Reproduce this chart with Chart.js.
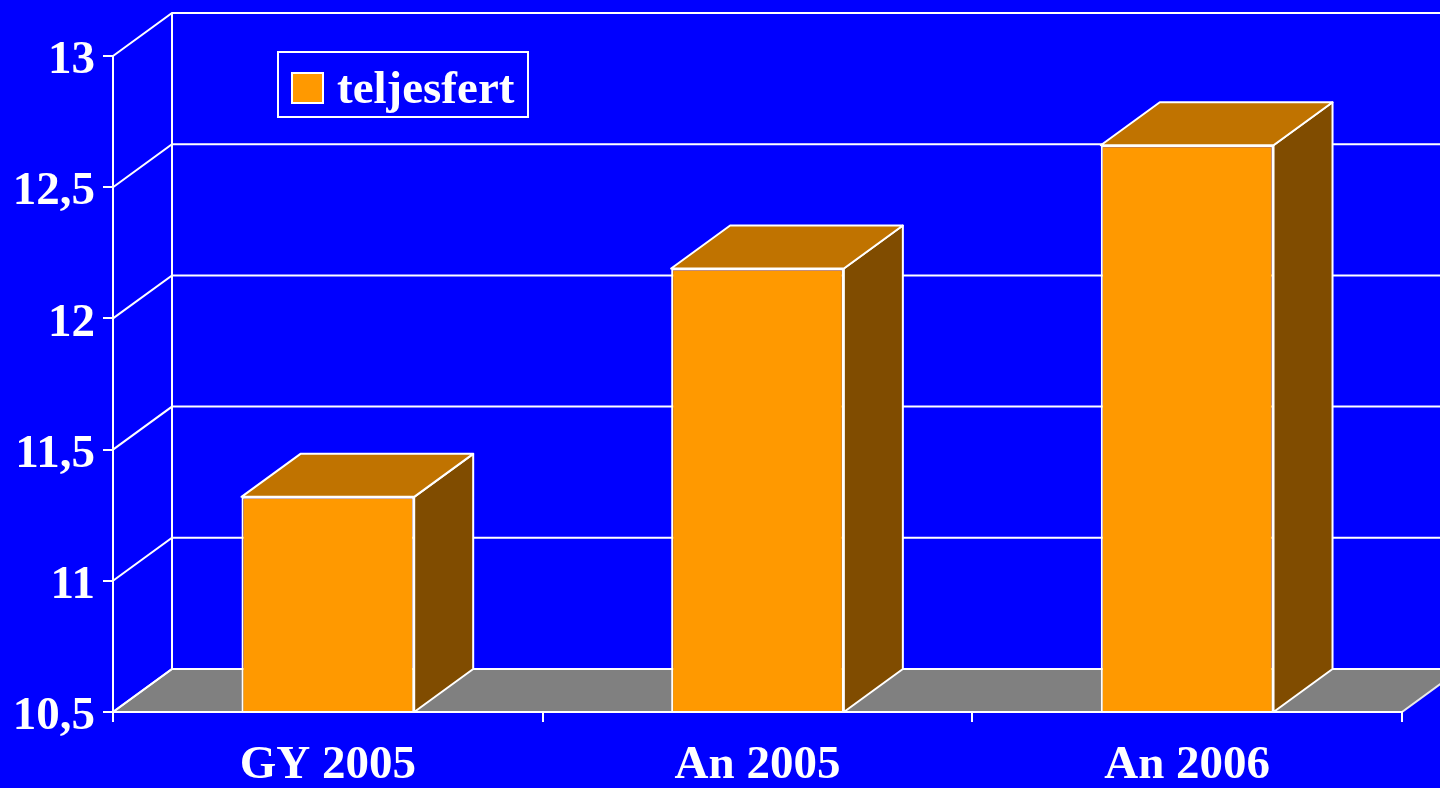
<!DOCTYPE html>
<html>
<head>
<meta charset="utf-8">
<script src="https://cdn.jsdelivr.net/npm/chart.js@4.4.1/dist/chart.umd.min.js"></script>
<style>
  html, body { margin: 0; padding: 0; background: #0000ff; }
  canvas { display: block; }
</style>
</head>
<body>
<canvas id="chart" width="1440" height="788"></canvas>
<script>
// data
const categories = ["GY 2005", "An 2005", "An 2006"];
const seriesName = "teljesfert";
const values = [11.32, 12.19, 12.66];
const yMin = 10.5, yMax = 13, yStep = 0.5;

// depth offset of the 3D box
const DX = 59, DY = 43;
const FONT = { family: "'Liberation Serif', 'Times New Roman', serif", size: 47, weight: 'bold' };

const depth3d = {
  id: 'depth3d',
  beforeDraw(chart) {
    const { ctx, chartArea: a, scales: { y } } = chart;
    ctx.save();
    ctx.fillStyle = '#0000ff';
    ctx.fillRect(0, 0, chart.width, chart.height);

    const yb = y.getPixelForValue(y.min);
    const yt = y.getPixelForValue(y.max);

    // floor
    ctx.beginPath();
    ctx.moveTo(a.left, yb);
    ctx.lineTo(a.right, yb);
    ctx.lineTo(a.right + DX, yb - DY);
    ctx.lineTo(a.left + DX, yb - DY);
    ctx.closePath();
    ctx.fillStyle = '#808080';
    ctx.fill();
    ctx.strokeStyle = '#e8e8e8';
    ctx.lineWidth = 2;
    ctx.stroke();

    // back wall grid lines + side wall diagonals
    ctx.strokeStyle = '#ffffff';
    y.ticks.forEach(t => {
      const py = y.getPixelForValue(t.value);
      ctx.beginPath();
      ctx.moveTo(a.left, py);
      ctx.lineTo(a.left + DX, py - DY);
      ctx.lineTo(chart.width + 5, py - DY);
      ctx.stroke();
    });
    ctx.beginPath();
    ctx.moveTo(a.left + DX, yt - DY);
    ctx.lineTo(a.left + DX, yb - DY);
    ctx.stroke();
    ctx.restore();
  },
  afterDatasetsDraw(chart) {
    const { ctx, chartArea: a, scales: { y: ys } } = chart;
    const meta = chart.getDatasetMeta(0);
    const yb = ys.getPixelForValue(ys.min);
    ctx.save();
    ctx.strokeStyle = '#ffffff';
    ctx.lineWidth = 2;
    ctx.lineJoin = 'round';
    meta.data.forEach(bar => {
      const { x, y, width } = bar.getProps(['x', 'y', 'width'], true);
      const l = x - width / 2, r = x + width / 2;
      // side
      ctx.beginPath();
      ctx.moveTo(r, y);
      ctx.lineTo(r + DX, y - DY);
      ctx.lineTo(r + DX, yb - DY);
      ctx.lineTo(r, yb);
      ctx.closePath();
      ctx.fillStyle = '#804c00';
      ctx.fill();
      ctx.stroke();
      // top
      ctx.beginPath();
      ctx.moveTo(l, y);
      ctx.lineTo(r, y);
      ctx.lineTo(r + DX, y - DY);
      ctx.lineTo(l + DX, y - DY);
      ctx.closePath();
      ctx.fillStyle = '#c07300';
      ctx.fill();
      ctx.stroke();
    });
    // front edge of the floor
    ctx.beginPath();
    ctx.moveTo(a.left, yb);
    ctx.lineTo(a.right, yb);
    ctx.stroke();
    ctx.restore();
  },
  afterDraw(chart) {
    // legend box
    const { ctx } = chart;
    const ds = chart.data.datasets[0];
    ctx.save();
    ctx.strokeStyle = '#ffffff';
    ctx.lineWidth = 2;
    ctx.strokeRect(278, 52, 250, 65);
    ctx.fillStyle = ds.backgroundColor;
    ctx.fillRect(292, 73, 31, 30);
    ctx.strokeRect(292, 73, 31, 30);
    ctx.fillStyle = '#ffffff';
    ctx.font = `bold ${FONT.size}px ${FONT.family}`;
    ctx.textBaseline = 'alphabetic';
    ctx.fillText(ds.label, 337, 103);
    ctx.restore();
  }
};

new Chart(document.getElementById('chart'), {
  type: 'bar',
  data: {
    labels: categories,
    datasets: [{
      label: seriesName,
      data: values,
      backgroundColor: '#ff9900',
      borderColor: '#ffffff',
      borderWidth: 2,
      borderSkipped: false,
      categoryPercentage: 1,
      barPercentage: 0.402
    }]
  },
  options: {
    responsive: false,
    animation: false,
    layout: { padding: { top: 56, right: 38, left: 0, bottom: 0 } },
    plugins: { legend: { display: false }, tooltip: { enabled: false } },
    scales: {
      x: {
        grid: { drawOnChartArea: false, drawTicks: true, tickLength: 10, color: '#ffffff', lineWidth: 2 },
        border: { display: true, color: '#ffffff', width: 2 },
        ticks: { color: '#ffffff', font: FONT, padding: 16, maxRotation: 0 },
        afterFit(s) { s.height = 76; }
      },
      y: {
        min: yMin,
        max: yMax,
        grid: { drawOnChartArea: false, drawTicks: true, tickLength: 10, color: '#ffffff', lineWidth: 2 },
        border: { display: true, color: '#ffffff', width: 2 },
        ticks: {
          stepSize: yStep,
          color: '#ffffff',
          font: FONT,
          padding: 8,
          labelOffset: 5,
          callback: v => String(v).replace('.', ',')
        },
        afterFit(s) { s.width = 113; }
      }
    }
  },
  plugins: [depth3d]
});
</script>
</body>
</html>
